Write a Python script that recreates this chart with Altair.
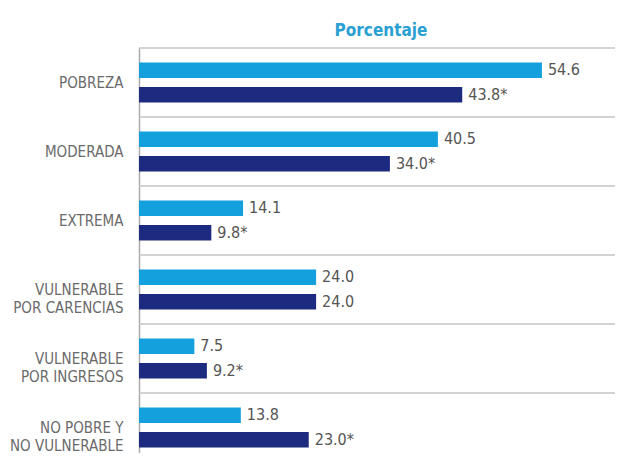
import altair as alt
import pandas as pd

categories = ["POBREZA", "MODERADA", "EXTREMA", "VULNERABLE|POR CARENCIAS",
              "VULNERABLE|POR INGRESOS", "NO POBRE Y|NO VULNERABLE"]
series = ["Serie 1", "Serie 2"]
values_1 = [54.6, 40.5, 14.1, 24.0, 7.5, 13.8]
values_2 = [43.8, 34.0, 9.8, 24.0, 9.2, 23.0]
signif_2 = [True, True, True, False, True, True]

rows = []
for i, c in enumerate(categories):
    rows.append({"cat": c, "serie": series[0], "valor": values_1[i],
                 "etiqueta": f"{values_1[i]:.1f}"})
    rows.append({"cat": c, "serie": series[1], "valor": values_2[i],
                 "etiqueta": f"{values_2[i]:.1f}" + ("*" if signif_2[i] else "")})
df = pd.DataFrame(rows)
grid_df = pd.DataFrame({"cat": categories})

FONT = "Liberation Sans Narrow, DejaVu Sans Condensed, Roboto Condensed, sans-serif"

yscale = alt.Scale(domain=categories, range=[0, 414], paddingInner=0, paddingOuter=0)

yaxis = alt.Axis(labelExpr="split(datum.label, '|')", labelFont=FONT,
                 labelFontSize=15, labelColor="#6a6a6a", labelPadding=16,
                 labelLineHeight=18, labelAlign="right", labelBaseline="middle",
                 ticks=False, grid=False, domain=True, domainColor="#aaaaaa",
                 domainWidth=1.5, labelLimit=200)

xscale = alt.Scale(domain=[0, 64.5], nice=False)
yoff = alt.YOffset("serie:N", sort=series,
                   scale=alt.Scale(paddingInner=0.37, paddingOuter=0.59))
color = alt.Color("serie:N", sort=series,
                  scale=alt.Scale(domain=series, range=["#13a0dd", "#1c2b7f"]),
                  legend=None)

bars = alt.Chart(df).mark_bar().encode(
    x=alt.X("valor:Q", scale=xscale, axis=None),
    y=alt.Y("cat:N", sort=categories, scale=yscale, title=None, axis=yaxis),
    yOffset=yoff,
    color=color,
)

grid = alt.Chart(grid_df).mark_rule(color="#c4c4c4", strokeWidth=1.5).encode(
    y=alt.Y("cat:N", sort=categories, scale=yscale, bandPosition=0, title=None)
)

text = alt.Chart(df).mark_text(align="left", baseline="middle", dx=6, font=FONT,
                               fontSize=16, color="#555555").encode(
    x=alt.X("valor:Q", scale=xscale, axis=None),
    y=alt.Y("cat:N", sort=categories, scale=yscale, title=None),
    yOffset=yoff,
    text="etiqueta:N",
)

chart = alt.layer(bars, grid, text).properties(
    width=476, height=405,
    autosize=alt.AutoSizeParams(type="none"),
    padding={"left": 131, "top": 40, "right": 0, "bottom": 0},
    title=alt.TitleParams("Porcentaje", font=FONT, fontSize=17, fontWeight="bold",
                          color="#2a9fd2", anchor="middle", offset=18, dy=24, dx=4,
                          frame="group", baseline="alphabetic"),
).configure_view(stroke=None)

chart.save("out.html", embed_options={"renderer": "svg", "actions": False})
